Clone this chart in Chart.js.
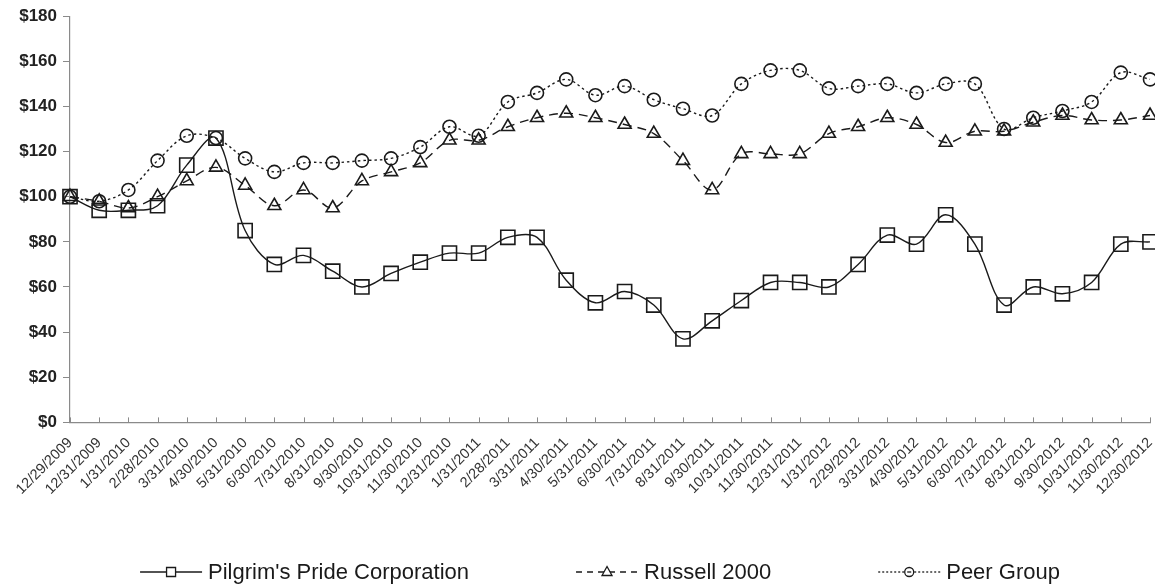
<!DOCTYPE html>
<html>
<head>
<meta charset="utf-8">
<script src="https://cdn.jsdelivr.net/npm/chart.js@4.4.1/dist/chart.umd.min.js"></script>
<style>
  html, body { margin: 0; padding: 0; background: #fff; }
  #wrap { width: 1155px; height: 585px; position: relative; }
</style>
</head>
<body>
<div id="wrap"><canvas id="perfChart"></canvas></div>
<script>
    // period end dates (x axis)
    const dates = [
        '12/29/2009', '12/31/2009',
        '1/31/2010', '2/28/2010', '3/31/2010', '4/30/2010', '5/31/2010', '6/30/2010',
        '7/31/2010', '8/31/2010', '9/30/2010', '10/31/2010', '11/30/2010', '12/31/2010',
        '1/31/2011', '2/28/2011', '3/31/2011', '4/30/2011', '5/31/2011', '6/30/2011',
        '7/31/2011', '8/31/2011', '9/30/2011', '10/31/2011', '11/30/2011', '12/31/2011',
        '1/31/2012', '2/29/2012', '3/31/2012', '4/30/2012', '5/31/2012', '6/30/2012',
        '7/31/2012', '8/31/2012', '9/30/2012', '10/31/2012', '11/30/2012', '12/30/2012'
    ];

    const pilgrims = [100, 94, 94, 96, 114, 126, 85, 70, 74, 67, 60, 66, 71, 75, 75, 82, 82,
        63, 53, 58, 52, 37, 45, 54, 62, 62, 60, 70, 83, 79, 92, 79, 52, 60, 57, 62, 79, 80];

    const russell = [100, 98, 95, 100, 107, 113, 105, 96, 103, 95, 107, 111, 115, 125, 125,
        131, 135, 137, 135, 132, 128, 116, 103, 119, 119, 119, 128, 131, 135, 132, 124, 129,
        129, 133, 136, 134, 134, 136];

    const peer = [100, 98, 103, 116, 127, 126, 117, 111, 115, 115, 116, 117, 122, 131, 127,
        142, 146, 152, 145, 149, 143, 139, 136, 150, 156, 156, 148, 149, 150, 146, 150, 150,
        130, 135, 138, 142, 155, 152];

    const yTicks = [0, 20, 40, 60, 80, 100, 120, 140, 160, 180];

    const ink = '#1a1a1a';
    const axisGrey = '#8a8a8a';

    const seriesStyle = [
        { label: "Pilgrim's Pride Corporation", data: pilgrims, dash: [], pointStyle: 'rect', radius: 10, legendDash: [] },
        { label: 'Russell 2000', data: russell, dash: [9, 6], pointStyle: 'triangle', radius: 7.5, legendDash: [6, 5] },
        { label: 'Peer Group', data: peer, dash: [2.5, 3], pointStyle: 'circle', radius: 6.5, legendDash: [2, 2] }
    ];

    // the end markers sit right on the plot edges, so don't reserve room for them
    Chart.LineController.prototype.getMaxOverflow = () => 0;

    // legend drawn below the plot: line sample with marker, then the name
    const legendLine = {
        id: 'legendLine',
        afterDraw(chart) {
            const c = chart.ctx;
            c.save();
            c.font = '22px Arial, "Liberation Sans", sans-serif';
            const sampleW = 62, textGap = 6, itemGap = 107;
            const widths = seriesStyle.map(s => sampleW + textGap + c.measureText(s.label).width);
            const total = widths.reduce((a, b) => a + b, 0) + itemGap * (widths.length - 1);
            let x = 600 - total / 2;
            const y = 572;
            seriesStyle.forEach((s, i) => {
                c.strokeStyle = ink;
                c.lineWidth = 1.3;
                c.setLineDash(s.legendDash);
                c.beginPath();
                c.moveTo(x, y);
                c.lineTo(x + sampleW, y);
                c.stroke();
                c.setLineDash([]);
                const mx = x + sampleW / 2;
                c.fillStyle = '#fff';
                c.beginPath();
                if (s.pointStyle === 'rect') {
                    c.rect(mx - 4.5, y - 4.5, 9, 9);
                } else if (s.pointStyle === 'triangle') {
                    c.moveTo(mx, y - 5.5);
                    c.lineTo(mx + 5, y + 3.5);
                    c.lineTo(mx - 5, y + 3.5);
                    c.closePath();
                } else {
                    c.arc(mx, y, 4.5, 0, Math.PI * 2);
                }
                c.fill();
                c.stroke();
                if (s.pointStyle === 'circle') {
                    c.beginPath();
                    c.moveTo(mx - 2, y);
                    c.lineTo(mx + 2, y);
                    c.stroke();
                }
                c.fillStyle = ink;
                c.textBaseline = 'middle';
                c.textAlign = 'left';
                c.fillText(s.label, x + sampleW + textGap, y + 1);
                x += widths[i] + itemGap;
            });
            c.restore();
        }
    };

    // short tick marks on the x axis pointing up into the plot
    const innerTicks = {
        id: 'innerTicks',
        afterDatasetsDraw(chart) {
            const xs = chart.scales.x;
            const c = chart.ctx;
            c.save();
            c.strokeStyle = axisGrey;
            c.lineWidth = 1;
            xs.ticks.forEach((t, i) => {
                const px = Math.round(xs.getPixelForTick(i)) + 0.5;
                c.beginPath();
                c.moveTo(px, xs.top);
                c.lineTo(px, xs.top - 5);
                c.stroke();
            });
            c.restore();
        }
    };

    const ctx = document.getElementById('perfChart').getContext('2d');

    new Chart(ctx, {
        type: 'line',
        data: {
            labels: dates,
            datasets: seriesStyle.map(s => ({
                label: s.label,
                data: s.data,
                borderColor: ink,
                borderWidth: 1.4,
                borderDash: s.dash,
                tension: 0.35,
                fill: false,
                clip: false,
                pointStyle: s.pointStyle,
                pointRadius: s.radius,
                pointHoverRadius: s.radius,
                pointBorderColor: ink,
                pointBorderWidth: 1.6,
                pointBackgroundColor: 'rgba(0,0,0,0)'
            }))
        },
        options: {
            responsive: true,
            maintainAspectRatio: false,
            animation: false,
            layout: { padding: { top: 16, right: 5, bottom: 75, left: 0 } },
            plugins: {
                legend: { display: false },
                tooltip: { enabled: false }
            },
            scales: {
                x: {
                    offset: false,
                    afterFit: scale => { scale.paddingRight = 0; },
                    grid: { drawOnChartArea: false, drawTicks: false },
                    border: { color: axisGrey, width: 1.2 },
                    ticks: {
                        autoSkip: false,
                        maxRotation: 45,
                        minRotation: 45,
                        padding: 12,
                        color: '#333',
                        font: { family: 'Arial, "Liberation Sans", sans-serif', size: 14.5 }
                    }
                },
                y: {
                    min: 0,
                    max: 180,
                    afterBuildTicks: scale => { scale.ticks = yTicks.map(v => ({ value: v })); },
                    afterFit: scale => { scale.width = 70; },
                    grid: { drawOnChartArea: false, drawTicks: true, tickLength: 7, color: axisGrey },
                    border: { color: axisGrey, width: 1.2 },
                    ticks: {
                        padding: 6,
                        color: '#222',
                        font: { family: 'Arial, "Liberation Sans", sans-serif', size: 17, weight: 'bold' },
                        callback: v => '$' + v
                    }
                }
            }
        },
        plugins: [innerTicks, legendLine]
    });
</script>
</body>
</html>
